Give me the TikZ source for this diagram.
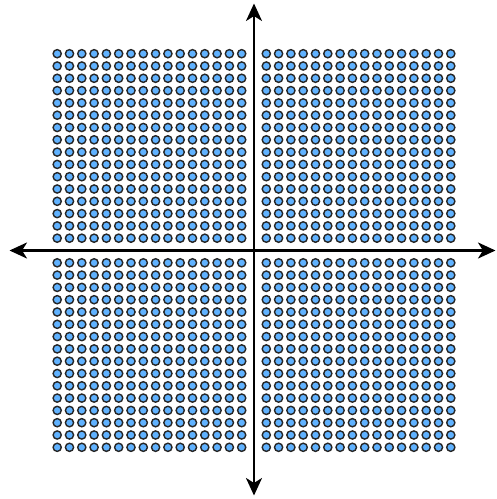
\documentclass[tikz,border=0pt]{standalone}
\usetikzlibrary{arrows.meta}

\definecolor{dotblue}{RGB}{96,178,255}

\begin{document}
\begin{tikzpicture}[
    x=0.246cm, y=0.246cm,
    axis/.style={{Stealth[length=0.35cm, width=0.32cm, inset=0.1cm]}-{Stealth[length=0.35cm, width=0.32cm, inset=0.1cm]}, line width=1.4pt, color=black},
    latticept/.style={draw=black!85, fill=dotblue, line width=0.8pt},
]

% --- Canvas ---
\useasboundingbox (-5.08cm,-4.97cm) rectangle (4.84cm,5.01cm);

% --- Lattice points (origin row and column left out) ---
\foreach \i in {-16,...,-1,1,2,...,16} {
    \foreach \j in {-16,...,-1,1,2,...,16} {
        \path [latticept] (\i,\j) circle [radius=0.082cm];
    }
}

% --- Axis ends ---
\coordinate (xmin) at (-4.89cm,0);
\coordinate (xmax) at (4.83cm,0);
\coordinate (ymin) at (0,-4.90cm);
\coordinate (ymax) at (0,4.94cm);

% --- Axes ---
\draw [axis] (xmin) -- (xmax);
\draw [axis] (ymin) -- (ymax);

\end{tikzpicture}
\end{document}
